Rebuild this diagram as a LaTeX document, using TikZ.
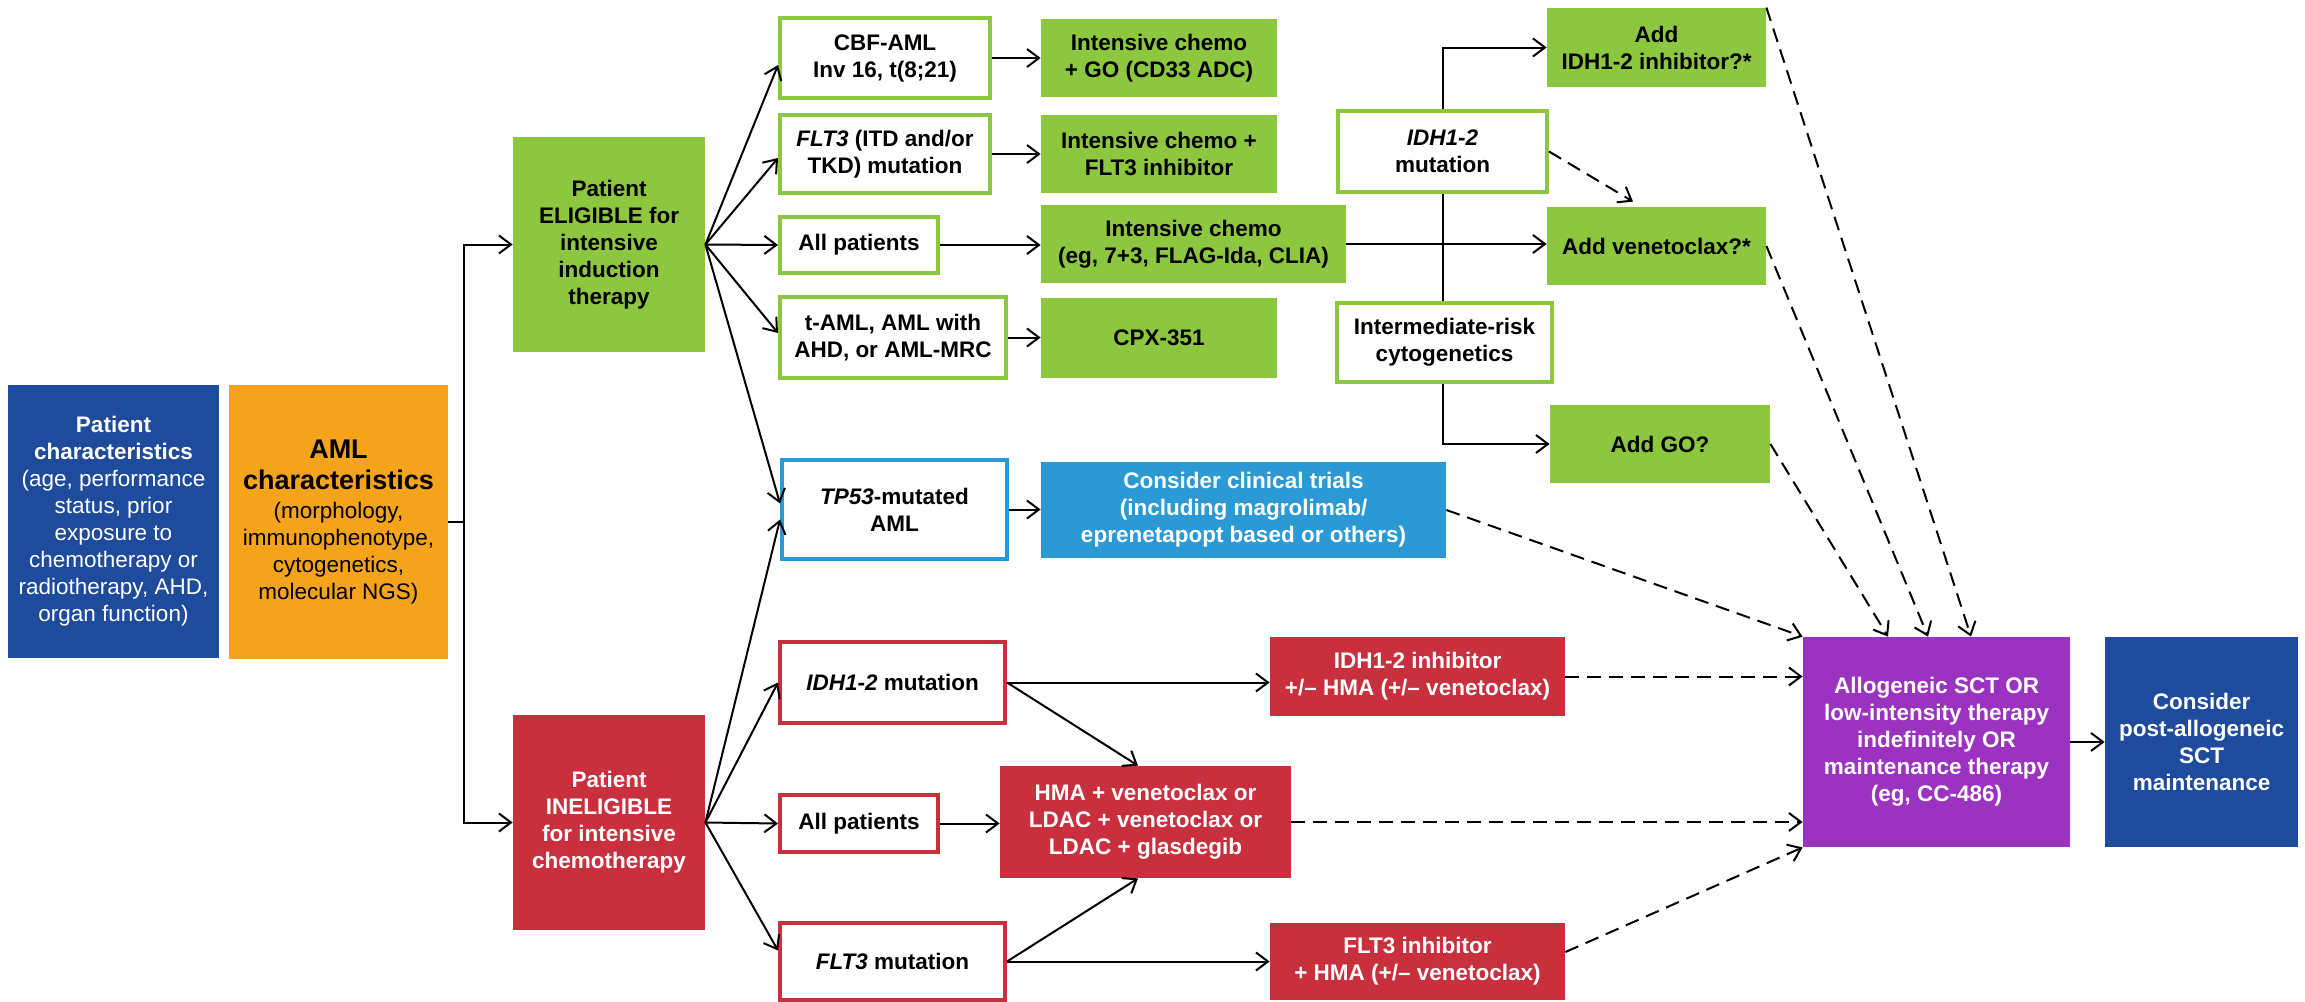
\documentclass[tikz,border=0pt]{standalone}
\usepackage{fontspec}
\setmainfont{Liberation Sans}
\usetikzlibrary{arrows.meta,calc}
\definecolor{cDarkBlue}{RGB}{30,75,155}
\definecolor{cOrange}{RGB}{245,163,27}
\definecolor{cGreen}{RGB}{141,198,63}
\definecolor{cBlue}{RGB}{43,154,212}
\definecolor{cRed}{RGB}{200,48,62}
\definecolor{cPurple}{RGB}{155,50,192}
\tikzset{
  base/.style={rectangle, inner sep=0pt, align=center, font=\fontsize{11.25}{13.5}\selectfont\bfseries},
  regbase/.style={rectangle, inner sep=0pt, align=center, font=\fontsize{11.25}{13.5}\selectfont},
  sz/.style 2 args={minimum width=#1, minimum height=#2},
  gfill/.style={base, fill=cGreen, text=black},
  gline/.style={base, fill=white, draw=cGreen, line width=2pt, text=black},
  rfill/.style={base, fill=cRed, text=white},
  rline/.style={base, fill=white, draw=cRed, line width=2pt, text=black},
  bline/.style={base, fill=white, draw=cBlue, line width=2pt, text=black},
  bfill/.style={base, fill=cBlue, text=white},
  plain/.style={line width=1pt},
  conn/.style={line width=1pt, -{Straight Barb[length=6pt,width=9pt]}},
  dconn/.style={conn, dash pattern=on 7pt off 4pt},
}
\begin{document}
\begin{tikzpicture}[x=0.5pt,y=-0.5pt]
\useasboundingbox (0,0) rectangle (2305,1001);

% left column
\node[regbase, fill=cDarkBlue, text=white, sz={105.5pt}{136.5pt}] (pat) at (113.5,521.5)
  {\textbf{Patient}\\\textbf{characteristics}\\(age, performance\\status, prior\\exposure to\\chemotherapy or\\radiotherapy, AHD,\\organ function)};
\node[regbase, fill=cOrange, text=black, sz={109.5pt}{137pt}] (aml) at (338.5,522)
  {\textbf{\fontsize{13.5}{13.5}\selectfont AML}\\[2pt]\textbf{\fontsize{13.5}{13.5}\selectfont characteristics}\\[1pt](morphology,\\immunophenotype,\\cytogenetics,\\molecular NGS)};

\node[gfill, sz={96pt}{107.5pt}] (elig) at (609,244.5) {Patient\\ELIGIBLE for\\intensive\\induction\\therapy};
\node[rfill, sz={96pt}{107.5pt}] (inel) at (609,822.5) {Patient\\INELIGIBLE\\for intensive\\chemotherapy};

% eligible branch
\node[gline, sz={105pt}{40pt}] (cbf) at (885,58) {CBF-AML\\Inv 16, t(8;21)};
\node[gline, sz={105pt}{39pt}] (flt3a) at (885,154) {\textit{FLT3} (ITD and/or\\TKD) mutation};
\node[gline, sz={79pt}{28pt}] (allA) at (859,245) {All patients};
\node[gline, sz={113pt}{40.5pt}] (taml) at (893,337.5) {t-AML, AML with\\AHD, or AML-MRC};
\node[bline, sz={112.5pt}{49.5pt}] (tp53) at (894.5,509.5) {\textit{TP53}-mutated\\AML};

\node[gfill, sz={118pt}{39pt}] (go) at (1159,58) {Intensive chemo\\+ GO (CD33 ADC)};
\node[gfill, sz={118pt}{39pt}] (flti) at (1159,154) {Intensive chemo +\\FLT3 inhibitor};
\node[gfill, sz={152.5pt}{39pt}] (ichemo) at (1193.5,244) {Intensive chemo\\(eg, 7+3, FLAG-Ida, CLIA)};
\node[gfill, sz={118pt}{40pt}] (cpx) at (1159,338) {CPX-351};
\node[bfill, sz={202.5pt}{48pt}] (trials) at (1243.5,510) {Consider clinical trials\\(including magrolimab/\\eprenetapopt based or others)};

\node[gline, sz={104.5pt}{40.5pt}] (idhm) at (1442.5,151.5) {\textit{IDH1-2}\\mutation};
\node[gline, sz={107.5pt}{39.5pt}] (irc) at (1444.5,342.5) {Intermediate-risk\\cytogenetics};

\node[gfill, sz={109.5pt}{39.5pt}] (addidh) at (1656.5,47.5) {Add\\IDH1-2 inhibitor?*};
\node[gfill, sz={109.5pt}{39pt}] (addven) at (1656.5,246) {Add venetoclax?*};
\node[gfill, sz={110pt}{39pt}] (addgo) at (1660,444) {Add GO?};

% ineligible branch
\node[rline, sz={112.5pt}{40.5pt}] (idhR) at (892.5,682.5) {\textit{IDH1-2} mutation};
\node[rline, sz={79pt}{28.5pt}] (allR) at (859,823.5) {All patients};
\node[rline, sz={112.5pt}{38.5pt}] (flt3R) at (892.5,961.5) {\textit{FLT3} mutation};

\node[rfill, sz={147.5pt}{39.5pt}] (idhinh) at (1417.5,676.5) {IDH1-2 inhibitor\\+/– HMA (+/– venetoclax)};
\node[rfill, sz={145.5pt}{56pt}] (hma) at (1145.5,822) {HMA + venetoclax or\\LDAC + venetoclax or\\LDAC + glasdegib};
\node[rfill, sz={147.5pt}{38.5pt}] (fltinh) at (1417.5,961.5) {FLT3 inhibitor\\+ HMA (+/– venetoclax)};

% final column
\node[base, fill=cPurple, text=white, sz={133.5pt}{105pt}] (allo) at (1936.5,742)
  {Allogeneic SCT OR\\low-intensity therapy\\indefinitely OR\\maintenance therapy\\(eg, CC-486)};
\node[base, fill=cDarkBlue, text=white, sz={96.5pt}{105pt}] (post) at (2201.5,742)
  {Consider\\post-allogeneic\\SCT\\maintenance};

% connectors
\coordinate (j) at (464,522);
\draw[plain] (aml.east) -- (j);
\draw[conn] (j) |- (elig.west);
\draw[conn] (j) |- (inel.west);

\draw[conn] (elig.east) -- ([yshift=-3.5pt]cbf.west);
\draw[conn] (elig.east) -- ([yshift=-2pt]flt3a.west);
\draw[conn] (elig.east) -- (allA.west);
\draw[conn] (elig.east) -- ([yshift=2.25pt]taml.west);
\draw[conn] (elig.east) -- ([yshift=3pt]tp53.west);

\draw[conn] (inel.east) -- ([yshift=-5pt]tp53.west);
\draw[conn] (inel.east) -- (idhR.west);
\draw[conn] (inel.east) -- (allR.west);
\draw[conn] (inel.east) -- ([yshift=5.5pt]flt3R.west);

\draw[conn] (cbf.east) -- (cbf.east -| go.west);
\draw[conn] (flt3a.east) -- (flt3a.east -| flti.west);
\draw[conn] (allA.east) -- (allA.east -| ichemo.west);
\draw[conn] (taml.east) -- (taml.east -| cpx.west);
\draw[conn] (tp53.east) -- (tp53.east -| trials.west);

\draw[conn] (ichemo.east) -- (ichemo.east -| addven.west);
\draw[conn] (idhm.north) |- (addidh.west);
\draw[plain] (idhm.south) -- (idhm.south |- irc.north);
\draw[conn] (irc.south -| idhm.south) |- (addgo.west);
\draw[dconn] (idhm.east) -- ([xshift=-11.75pt,yshift=2.5pt]addven.north);

\draw[dconn] (trials.east) -- (allo.north west);
\draw[dconn] (addidh.north east) -- ([xshift=17.25pt]allo.north);
\draw[dconn] (addven.east) -- ([xshift=-4.25pt]allo.north);
\draw[dconn] (addgo.east) -- ([xshift=-24.25pt]allo.north);
\draw[dconn] (idhinh.east) -- (idhinh.east -| allo.west);
\draw[dconn] (hma.east) -- (hma.east -| allo.west);
\draw[dconn] ([yshift=4.75pt]fltinh.east) -- (allo.south west);

\draw[conn] (idhR.east) -- (idhR.east -| idhinh.west);
\draw[conn] (idhR.east) -- ([xshift=-3.75pt]hma.north);
\draw[conn] (allR.east) -- (allR.east -| hma.west);
\draw[conn] (flt3R.east) -- (flt3R.east -| fltinh.west);
\draw[conn] (flt3R.east) -- ([xshift=-3.75pt]hma.south);

\draw[conn] (allo.east) -- (post.west);
\end{tikzpicture}
\end{document}
